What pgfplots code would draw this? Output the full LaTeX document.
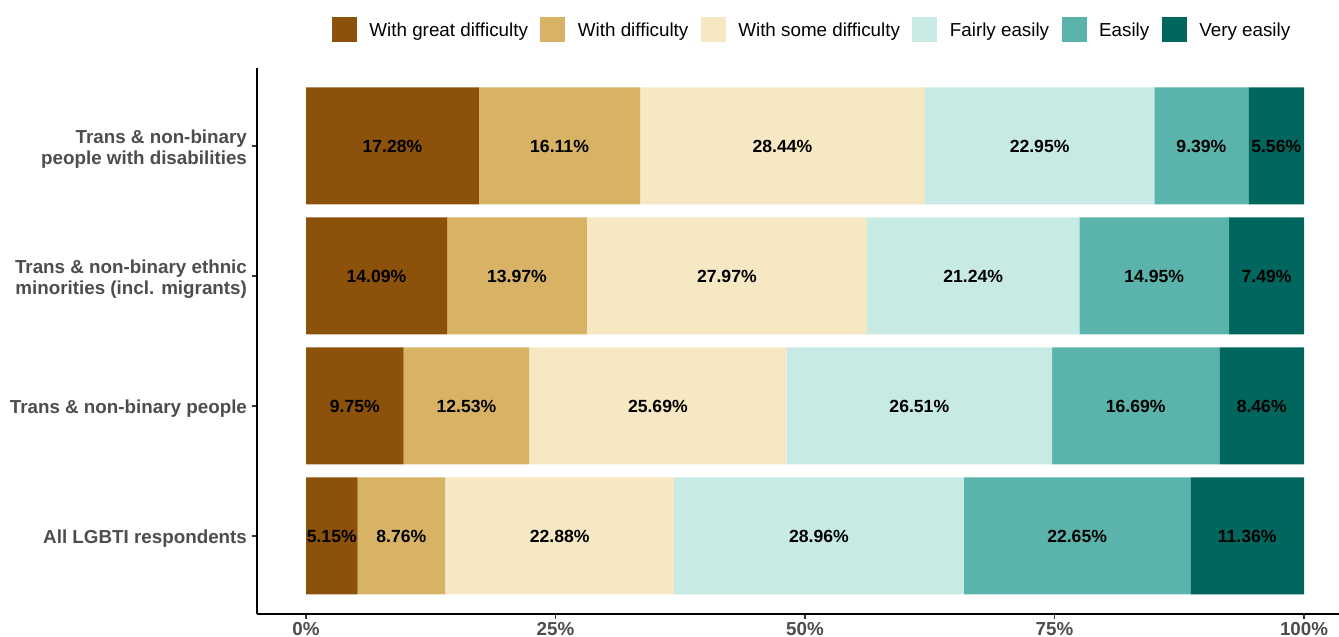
\documentclass[border=0pt]{standalone}
\usepackage{fontspec}
\setmainfont{Liberation Sans}
\usepackage{pgfplots}
\pgfplotsset{compat=1.18}
\usepackage{pgfplotstable}
\definecolor{cA}{HTML}{8C510A}
\definecolor{cB}{HTML}{D8B365}
\definecolor{cC}{HTML}{F6E8C3}
\definecolor{cD}{HTML}{C7EAE5}
\definecolor{cE}{HTML}{5AB4AC}
\definecolor{cF}{HTML}{01665E}
\definecolor{tickgrey}{HTML}{4D4D4D}

\pgfplotstableread{
y a b c d e f
4 17.28 16.11 28.44 22.95 9.39 5.56
3 14.09 13.97 27.97 21.24 14.95 7.49
2 9.75 12.53 25.69 26.51 16.69 8.46
1 5.15 8.76 22.88 28.96 22.65 11.36
}\data

\newcommand\tot{(\thisrow{a}+\thisrow{b}+\thisrow{c}+\thisrow{d}+\thisrow{e}+\thisrow{f})}

\pgfplotsset{common/.style={at={(0,0)}, anchor=south west, scale only axis,
  width=541pt, height=273pt, xmin=-4.91, xmax=103.5, ymin=0.4, ymax=4.6}}

\begin{document}
\begin{tikzpicture}
\path[use as bounding box] (-128.5pt,-11.5pt) rectangle (541pt,307pt);
\begin{axis}[common,
  xbar stacked, bar width=0.9,
  axis x line*=bottom, axis y line*=left,
  axis line style={line width=0.9pt, black, -},
  tick align=outside, major tick length=2.5pt,
  tick style={line width=0.6pt, color=black!80},
  xtick={0,25,50,75,100},
  xticklabels={0\%,25\%,50\%,75\%,100\%},
  ytick={1,2,3,4},
  yticklabels={All LGBTI respondents, Trans \& non-binary people, {Trans \& non-binary ethnic\\minorities (incl. migrants)}, {Trans \& non-binary\\people with disabilities}},
  yticklabel style={align=right, font=\fontsize{9.4}{10.3}\selectfont\bfseries, text=tickgrey, xshift=1pt, yshift=-1.5pt},
  xticklabel style={font=\fontsize{9.4}{10.3}\selectfont\bfseries, text=tickgrey, yshift=2pt},
  legend columns=6,
  legend style={at={(axis description cs:0.0693,1.0707)}, anchor=west, draw=none, fill=none,
    inner sep=0pt, outer sep=0pt, column sep=6.25pt,
    font=\fontsize{9.4}{11}\selectfont, nodes={inner sep=0pt}},
  legend image code/.code={\fill[#1] (0pt,-5.15pt) rectangle (12.5pt,7.35pt);},
]
\addplot[fill=cA, draw=none] table[x expr={100*\thisrow{a}/\tot}, y=y]{\data};
\addplot[fill=cB, draw=none] table[x expr={100*\thisrow{b}/\tot}, y=y]{\data};
\addplot[fill=cC, draw=none] table[x expr={100*\thisrow{c}/\tot}, y=y]{\data};
\addplot[fill=cD, draw=none] table[x expr={100*\thisrow{d}/\tot}, y=y]{\data};
\addplot[fill=cE, draw=none] table[x expr={100*\thisrow{e}/\tot}, y=y]{\data};
\addplot[fill=cF, draw=none] table[x expr={100*\thisrow{f}/\tot}, y=y]{\data};
\legend{With great difficulty, With difficulty, With some difficulty, Fairly easily, Easily, Very easily}
\end{axis}
\begin{axis}[common, hide axis, clip=false,
  point meta=explicit,
  nodes near coords={\pgfmathprintnumber[fixed,fixed zerofill,precision=2,assume math mode=true]{\pgfplotspointmeta}\%},
  every node near coord/.append style={anchor=center, font=\fontsize{8.8}{10}\selectfont\bfseries, text=black},
]
\addplot[draw=none, mark=none] table[x expr={100*(\thisrow{a}/2)/\tot}, y=y, meta=a]{\data};
\addplot[draw=none, mark=none] table[x expr={100*(\thisrow{a}+\thisrow{b}/2)/\tot}, y=y, meta=b]{\data};
\addplot[draw=none, mark=none] table[x expr={100*(\thisrow{a}+\thisrow{b}+\thisrow{c}/2)/\tot}, y=y, meta=c]{\data};
\addplot[draw=none, mark=none] table[x expr={100*(\thisrow{a}+\thisrow{b}+\thisrow{c}+\thisrow{d}/2)/\tot}, y=y, meta=d]{\data};
\addplot[draw=none, mark=none] table[x expr={100*(\thisrow{a}+\thisrow{b}+\thisrow{c}+\thisrow{d}+\thisrow{e}/2)/\tot}, y=y, meta=e]{\data};
\addplot[draw=none, mark=none] table[x expr={100*(\thisrow{a}+\thisrow{b}+\thisrow{c}+\thisrow{d}+\thisrow{e}+\thisrow{f}/2)/\tot}, y=y, meta=f]{\data};
\end{axis}
\end{tikzpicture}
\end{document}
